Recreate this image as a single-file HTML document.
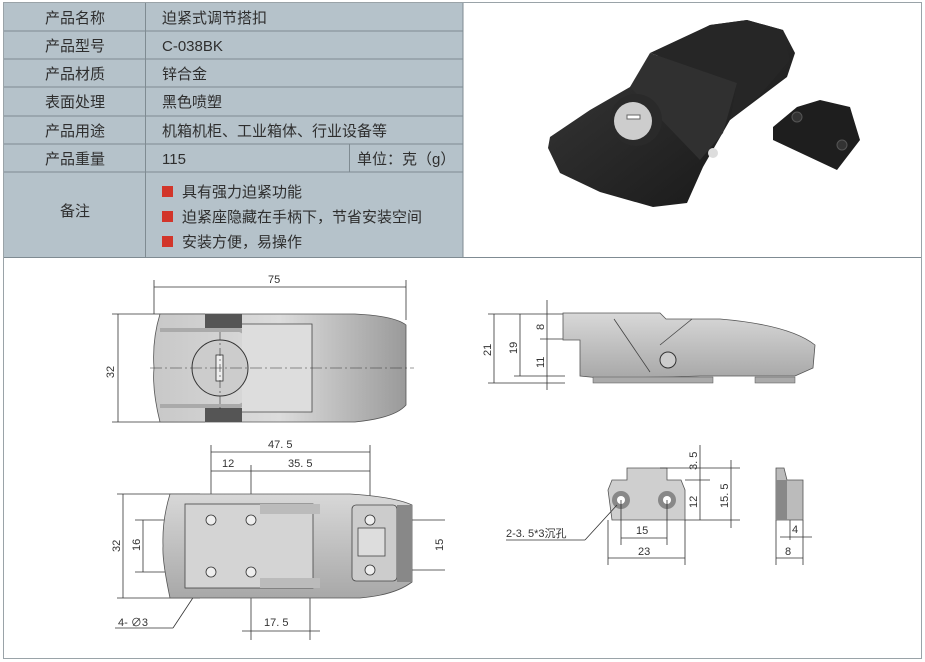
<!DOCTYPE html>
<html><head><meta charset="utf-8"><style>
html,body{margin:0;padding:0;background:#fff}
svg{display:block}
text{font-family:"Liberation Sans","Noto Sans CJK SC",sans-serif}
</style></head><body>
<svg width="925" height="662" viewBox="0 0 925 662" xmlns="http://www.w3.org/2000/svg">
<defs>
<linearGradient id="g1" x1="0" y1="0" x2="1" y2="0"><stop offset="0" stop-color="#c8c8c8"/><stop offset="0.5" stop-color="#dcdcdc"/><stop offset="1" stop-color="#9a9a9a"/></linearGradient>
<linearGradient id="g2" x1="0" y1="0" x2="0" y2="1"><stop offset="0" stop-color="#d8d8d8"/><stop offset="1" stop-color="#a8a8a8"/></linearGradient>
<linearGradient id="bk" x1="0" y1="0" x2="1" y2="1"><stop offset="0" stop-color="#3a3a3a"/><stop offset="1" stop-color="#151515"/></linearGradient>
</defs>
<rect x="0" y="0" width="925" height="662" fill="#fff"/>
<rect x="3.5" y="2.5" width="918" height="656" fill="none" stroke="#9aa3a8"/>
<rect x="4" y="3" width="459" height="254" fill="#b5c2ca"/>
<g stroke="#7f8b92" stroke-width="1">
<line x1="4" y1="31" x2="463" y2="31"/><line x1="4" y1="59" x2="463" y2="59"/><line x1="4" y1="87" x2="463" y2="87"/>
<line x1="4" y1="116" x2="463" y2="116"/><line x1="4" y1="144" x2="463" y2="144"/><line x1="4" y1="172" x2="463" y2="172"/>
<line x1="145.5" y1="3" x2="145.5" y2="257"/><line x1="349.5" y1="144" x2="349.5" y2="172"/><line x1="463" y1="3" x2="463" y2="257"/>
<line x1="4" y1="257.5" x2="921" y2="257.5"/>
</g>
<g font-size="15" fill="#2e2e2e">
<text x="75" y="23" text-anchor="middle">产品名称</text>
<text x="75" y="51" text-anchor="middle">产品型号</text>
<text x="75" y="79" text-anchor="middle">产品材质</text>
<text x="75" y="107" text-anchor="middle">表面处理</text>
<text x="75" y="136" text-anchor="middle">产品用途</text>
<text x="75" y="164" text-anchor="middle">产品重量</text>
<text x="75" y="216" text-anchor="middle">备注</text>
<text x="162" y="23">迫紧式调节搭扣</text>
<text x="162" y="51">C-038BK</text>
<text x="162" y="79">锌合金</text>
<text x="162" y="107">黑色喷塑</text>
<text x="162" y="136">机箱机柜、工业箱体、行业设备等</text>
<text x="162" y="164">115</text>
<text x="357" y="164">单位：克（g）</text>
<text x="182" y="197">具有强力迫紧功能</text>
<text x="182" y="222">迫紧座隐藏在手柄下，节省安装空间</text>
<text x="182" y="247">安装方便，易操作</text>
</g>
<g fill="#d2352a"><rect x="162" y="186" width="11" height="11"/><rect x="162" y="211" width="11" height="11"/><rect x="162" y="236" width="11" height="11"/></g>
<!-- photo -->
<path d="M548,148 L560,173 L600,192 L653,207 L687,203 L703,167 L730,120 L787,77 L795,53 L783,30 L747,20 L710,25 L663,50 L630,87 L590,110 L550,137 Z" fill="url(#bk)"/>
<path d="M650,53 L710,25 L747,20 L783,30 L790,60 L760,95 L730,120 L737,83 Z" fill="#262626"/>
<path d="M630,87 L650,53 L737,83 L723,133 L700,160 Z" fill="#303030"/>
<circle cx="636" cy="120" r="26" fill="#2a2a2a"/>
<circle cx="633" cy="121" r="19" fill="#cdcdcd"/>
<rect x="627" y="115" width="13" height="4" fill="#fff" stroke="#666"/>
<circle cx="713" cy="153" r="5" fill="#ddd"/>
<path d="M773,127 L797,107 L820,100 L850,107 L853,117 L860,140 L837,170 L773,140 Z" fill="#1e1e1e"/>
<circle cx="797" cy="117" r="5" fill="#333" stroke="#555"/><circle cx="842" cy="145" r="5" fill="#333" stroke="#555"/>
<!-- top view -->
<g stroke="#333" stroke-width="0.8" fill="none">
<line x1="154" y1="280" x2="154" y2="314"/><line x1="406" y1="280" x2="406" y2="320"/>
<line x1="154" y1="287" x2="406" y2="287"/>
<line x1="112" y1="314" x2="205" y2="314"/><line x1="112" y1="422" x2="205" y2="422"/>
<line x1="118" y1="314" x2="118" y2="422"/>
</g>
<text x="268" y="283" font-size="11" fill="#333">75</text>
<text x="114" y="372" font-size="11" fill="#333" transform="rotate(-90 114 372)" text-anchor="middle">32</text>
<path d="M160,314 L355,314 Q395,316 406,325 L406,405 Q395,418 355,422 L160,422 Q152,390 154,368 Q152,340 160,314 Z" fill="url(#g1)" stroke="#555" stroke-width="0.8"/>
<path d="M160,330 L240,330 Q262,340 262,368 Q262,396 240,406 L160,406" fill="none" stroke="#aaa" stroke-width="4"/>
<rect x="205" y="314" width="37" height="14" fill="#555"/><rect x="205" y="408" width="37" height="14" fill="#555"/>
<path d="M242,324 L312,324 L312,412 L242,412" fill="#ddd" stroke="#444" stroke-width="0.8"/>
<circle cx="220" cy="368" r="28" fill="#ccc" stroke="#333"/>
<rect x="216" y="355" width="7" height="26" fill="#eee" stroke="#333" stroke-width="0.8"/>
<line x1="150" y1="368" x2="414" y2="368" stroke="#333" stroke-width="0.6" stroke-dasharray="12,3,2,3"/>
<line x1="220" y1="332" x2="220" y2="410" stroke="#333" stroke-width="0.6" stroke-dasharray="8,3,2,3"/>
<!-- bottom view -->
<g stroke="#333" stroke-width="0.8" fill="none">
<line x1="211" y1="445" x2="211" y2="520"/><line x1="370" y1="445" x2="370" y2="520"/>
<line x1="211" y1="452" x2="370" y2="452"/><line x1="211" y1="471" x2="370" y2="471"/>
<line x1="251" y1="465" x2="251" y2="520"/>
<line x1="117" y1="494" x2="200" y2="494"/><line x1="117" y1="598" x2="200" y2="598"/><line x1="123" y1="494" x2="123" y2="598"/>
<line x1="135" y1="520" x2="205" y2="520"/><line x1="135" y1="572" x2="205" y2="572"/><line x1="143" y1="520" x2="143" y2="572"/>
<line x1="380" y1="520" x2="445" y2="520"/><line x1="380" y1="570" x2="445" y2="570"/>
<line x1="251" y1="580" x2="251" y2="640"/><line x1="310" y1="560" x2="310" y2="640"/>
<line x1="242" y1="631" x2="320" y2="631"/>
<line x1="210" y1="572" x2="173" y2="628"/><line x1="173" y1="628" x2="115" y2="628"/>
</g>
<g font-size="11" fill="#333">
<text x="268" y="448">47. 5</text><text x="222" y="467">12</text><text x="288" y="467">35. 5</text>
<text x="120" y="552" transform="rotate(-90 120 552)">32</text><text x="140" y="551" transform="rotate(-90 140 551)">16</text>
<text x="443" y="551" transform="rotate(-90 443 551)">15</text>
<text x="264" y="626">17. 5</text><text x="118" y="626">4-  ∅3</text>
</g>
<path d="M170,494 L350,494 Q395,497 412,505 L412,582 Q395,595 360,598 L170,598 Q162,560 163,546 Q162,520 170,494 Z" fill="url(#g2)" stroke="#555" stroke-width="0.8"/>
<rect x="185" y="504" width="128" height="84" fill="#d4d4d4" stroke="#444" stroke-width="0.8"/>
<rect x="352" y="505" width="45" height="76" rx="4" fill="#ccc" stroke="#444" stroke-width="0.8"/>
<rect x="358" y="528" width="27" height="28" fill="#ddd" stroke="#444" stroke-width="0.8"/>
<rect x="397" y="505" width="15" height="77" fill="#888"/>
<rect x="260" y="504" width="60" height="10" fill="#bbb"/><rect x="260" y="578" width="60" height="10" fill="#bbb"/>
<g fill="#eee" stroke="#333" stroke-width="0.8">
<circle cx="211" cy="520" r="5"/><circle cx="251" cy="520" r="5"/><circle cx="211" cy="572" r="5"/><circle cx="251" cy="572" r="5"/><circle cx="370" cy="520" r="5"/><circle cx="370" cy="570" r="5"/>
</g>
<!-- side view -->
<g stroke="#333" stroke-width="0.8" fill="none">
<line x1="488" y1="314" x2="565" y2="314"/><line x1="488" y1="383" x2="565" y2="383"/><line x1="494" y1="314" x2="494" y2="383"/>
<line x1="514" y1="376" x2="565" y2="376"/><line x1="520" y1="314" x2="520" y2="376"/>
<line x1="547" y1="300" x2="547" y2="390"/><line x1="540" y1="339" x2="580" y2="339"/>
</g>
<g font-size="11" fill="#333">
<text x="491" y="356" transform="rotate(-90 491 356)">21</text><text x="517" y="354" transform="rotate(-90 517 354)">19</text>
<text x="544" y="330" transform="rotate(-90 544 330)">8</text><text x="544" y="368" transform="rotate(-90 544 368)">11</text>
</g>
<path d="M563,313 L660,313 L666,319 L720,319 Q790,325 815,345 L813,368 L795,376 L700,376 L670,377 L600,378 L580,376 L580,340 L563,340 Z" fill="url(#g2)" stroke="#555" stroke-width="0.8"/>
<path d="M614,319 L650,372 M692,319 L660,345" stroke="#444" stroke-width="0.8" fill="none"/>
<circle cx="668" cy="360" r="8" fill="#ccc" stroke="#333"/>
<rect x="593" y="377" width="120" height="6" fill="#aaa" stroke="#555" stroke-width="0.5"/>
<rect x="755" y="377" width="40" height="6" fill="#aaa" stroke="#555" stroke-width="0.5"/>
<!-- strike -->
<path d="M627,468 L667,468 L667,480 L681,480 L685,490 L685,520 L612,520 L608,490 L612,480 L627,480 Z" fill="#cfcfcf" stroke="#555" stroke-width="0.8"/>
<circle cx="621" cy="500" r="9" fill="#888"/><circle cx="621" cy="500" r="4" fill="#fff"/>
<circle cx="667" cy="500" r="9" fill="#888"/><circle cx="667" cy="500" r="4" fill="#fff"/>
<g stroke="#333" stroke-width="0.8" fill="none">
<line x1="660" y1="468" x2="740" y2="468"/><line x1="685" y1="480" x2="710" y2="480"/><line x1="685" y1="520" x2="740" y2="520"/>
<line x1="700" y1="445" x2="700" y2="520"/><line x1="731" y1="460" x2="731" y2="528"/>
<line x1="621" y1="500" x2="621" y2="545"/><line x1="667" y1="500" x2="667" y2="545"/><line x1="621" y1="538" x2="667" y2="538"/>
<line x1="608" y1="520" x2="608" y2="565"/><line x1="685" y1="520" x2="685" y2="565"/><line x1="608" y1="558" x2="685" y2="558"/>
<line x1="617" y1="505" x2="585" y2="540"/><line x1="585" y1="540" x2="506" y2="540"/>
<line x1="776" y1="520" x2="776" y2="565"/><line x1="803" y1="520" x2="803" y2="565"/><line x1="790" y1="520" x2="790" y2="540"/>
<line x1="780" y1="537" x2="812" y2="537"/><line x1="776" y1="558" x2="803" y2="558"/>
</g>
<g font-size="11" fill="#333">
<text x="697" y="470" transform="rotate(-90 697 470)">3. 5</text><text x="697" y="508" transform="rotate(-90 697 508)">12</text>
<text x="728" y="508" transform="rotate(-90 728 508)">15. 5</text>
<text x="636" y="534">15</text><text x="638" y="555">23</text><text x="506" y="537">2-3. 5*3沉孔</text>
<text x="792" y="533">4</text><text x="785" y="555">8</text>
</g>
<path d="M776,468 L784,468 L787,480 L803,480 L803,520 L776,520 Z" fill="#bbb" stroke="#555" stroke-width="0.8"/>
<rect x="776" y="480" width="11" height="40" fill="#888"/>
</svg>
</body></html>
